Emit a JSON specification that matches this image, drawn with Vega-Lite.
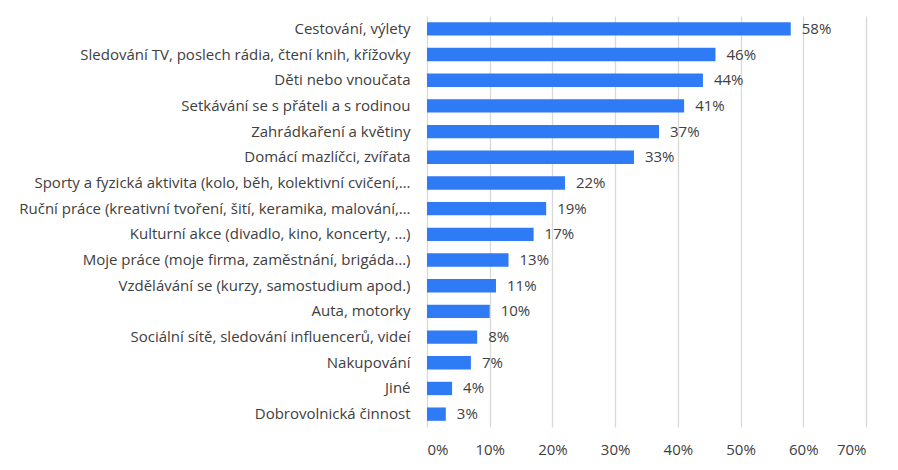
{
  "$schema": "https://vega.github.io/schema/vega-lite/v6.json",
  "width": 439,
  "height": 411,
  "padding": {"left": 18, "top": 16, "right": 5, "bottom": 5},
  "background": "white",
  "config": {
    "view": {"stroke": null},
    "font": "Open Sans",
    "axis": {"labelFont": "Open Sans", "labelColor": "#404040", "labelFontSize": 15}
  },
  "data": {
    "values": [
      {"activity": "Cestování, výlety", "value": 0.58},
      {"activity": "Sledování TV, poslech rádia, čtení knih, křížovky", "value": 0.46},
      {"activity": "Děti nebo vnoučata", "value": 0.44},
      {"activity": "Setkávání se s přáteli a s rodinou", "value": 0.41},
      {"activity": "Zahrádkaření a květiny", "value": 0.37},
      {"activity": "Domácí mazlíčci, zvířata", "value": 0.33},
      {"activity": "Sporty a fyzická aktivita (kolo, běh, kolektivní cvičení,…", "value": 0.22},
      {"activity": "Ruční práce (kreativní tvoření, šití, keramika, malování,…", "value": 0.19},
      {"activity": "Kulturní akce (divadlo, kino, koncerty, …)", "value": 0.17},
      {"activity": "Moje práce (moje firma, zaměstnání, brigáda…)", "value": 0.13},
      {"activity": "Vzdělávání se (kurzy, samostudium apod.)", "value": 0.11},
      {"activity": "Auta, motorky", "value": 0.10},
      {"activity": "Sociální sítě, sledování influencerů, videí", "value": 0.08},
      {"activity": "Nakupování", "value": 0.07},
      {"activity": "Jiné", "value": 0.04},
      {"activity": "Dobrovolnická činnost", "value": 0.03}
    ]
  },
  "encoding": {
    "y": {
      "field": "activity",
      "type": "nominal",
      "sort": null,
      "title": null,
      "scale": {"paddingInner": 0.48, "paddingOuter": 0.24},
      "axis": {"ticks": false, "domain": false, "labelPadding": 17, "labelLimit": 500}
    },
    "x": {
      "field": "value",
      "type": "quantitative",
      "title": null,
      "scale": {"domain": [0, 0.7], "nice": false},
      "axis": {
        "format": ".0%",
        "values": [0, 0.1, 0.2, 0.3, 0.4, 0.5, 0.6, 0.7],
        "ticks": false,
        "domain": false,
        "grid": true,
        "gridColor": "#d9d9d9",
        "gridWidth": 1.3,
        "labelPadding": 15
      }
    }
  },
  "layer": [
    {"mark": {"type": "bar", "color": "#2f7bf6"}},
    {
      "mark": {"type": "text", "align": "left", "baseline": "middle", "dx": 11, "fontSize": 15, "color": "#404040", "font": "Open Sans"},
      "encoding": {"text": {"field": "value", "format": ".0%"}}
    }
  ]
}
